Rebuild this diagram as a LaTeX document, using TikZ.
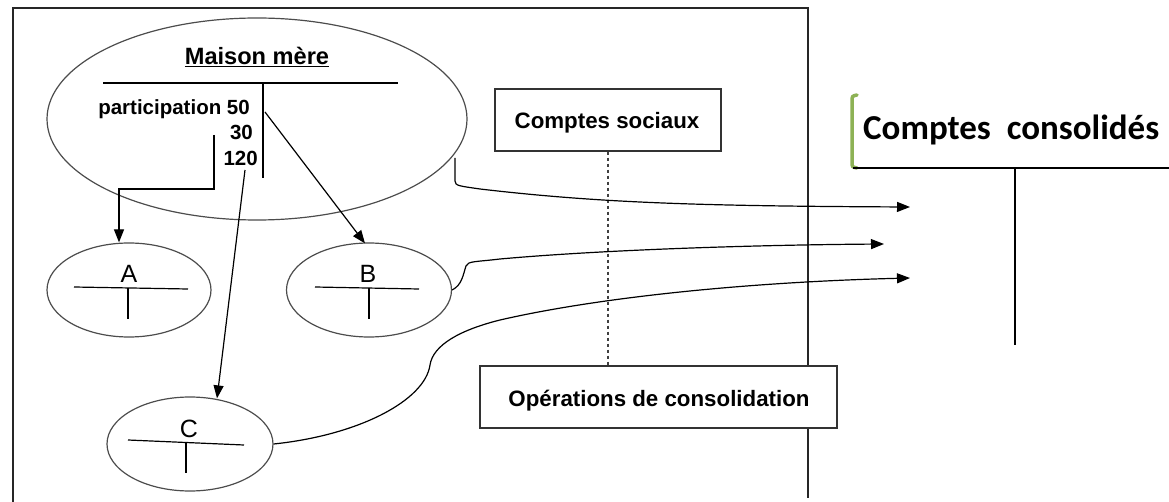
\documentclass[tikz,border=0pt]{standalone}
\usepackage{fontspec}
\setmainfont{Liberation Sans}
\newfontfamily\calib{Carlito}
\usetikzlibrary{shapes.geometric,arrows.meta,calc}
\definecolor{brgreen}{HTML}{8DB255}
\begin{document}
\begin{tikzpicture}[x=1pt,y=-1pt,
  ell/.style={ellipse,draw=black!70,line width=1.2pt,inner sep=0pt},
  arr/.style={line width=1.2pt,-{Triangle[length=13pt,width=10pt]}},
  conn/.style={line width=1.2pt},
  box/.style={draw=black!80,line width=1.3pt,fill=white,inner sep=0pt},
  lbl/.style={font=\fontsize{22.3}{26}\selectfont\bfseries,inner sep=0pt,anchor=base},
  small/.style={font=\fontsize{20.5}{24}\selectfont\bfseries,inner sep=0pt,anchor=base east},
  letter/.style={font=\fontsize{25}{29}\selectfont,inner sep=0pt,anchor=base},
  tl/.style={line width=1.2pt}]
\useasboundingbox (0,0) rectangle (1169,502);
% frame
\coordinate (f1) at (13,502);
\coordinate (f2) at (13,8);
\coordinate (f3) at (808,8);
\coordinate (f4) at (808,498);
\draw[line width=1.5pt,black!85] (f1) -- (f2) -- (f3) -- (f4);
% ellipses
\node[ell,minimum width=420pt,minimum height=202pt] (mm) at (257,119) {};
\node[ell,minimum width=164pt,minimum height=94pt] (A) at (129,290) {};
\node[ell,minimum width=165pt,minimum height=94pt] (B) at (369,290) {};
\node[ell,minimum width=166pt,minimum height=94pt] (C) at (190,444) {};
% Maison mere contents
\node[lbl,font=\fontsize{23.6}{27}\selectfont\bfseries] (mmt) at (257,65) {\underline{Maison mère}};
\draw[tl] (103,83) -- (398,83);
\draw[tl] (263,83) -- (263,178);
\node[small] (p50) at (250,115) {participation 50};
\node[small] (p30) at (253,140) {30};
\node[small] (p120) at (258,166) {120};
% A, B, C contents
\node[letter] (At) at (129,283) {A};
\draw[tl] (74,287) -- (188,289);
\draw[tl] (128,288) -- (128,319);
\node[letter] (Bt) at (368,283) {B};
\draw[tl] (315,287) -- (419,289);
\draw[tl] (369,288) -- (369,319);
\node[letter] (Ct) at (189,437) {C};
\draw[tl] (128,440) -- (244,445);
\draw[tl] (186,442) -- (186,473);
% arrows from maison mere
\coordinate (a0) at (214,135);
\coordinate (a1) at (119,189);
\draw[arr] (a0) |- (a1) -- (a1 |- A.north);
\coordinate (b0) at (265,112);
\draw[arr] (b0) -- ($(B.north)+(-4,1)$);
\coordinate (c0) at (245,170);
\draw[arr] (c0) -- ($(C.north)+(27,2)$);
% boxes
\node[box,minimum width=226pt,minimum height=62pt] (cs) at (608,120) {};
\node[lbl] (cst) at (607,129) {Comptes sociaux};
\node[box,minimum width=357pt,minimum height=62pt] (op) at (658.5,397) {};
\node[lbl] (opt) at (659,406) {Opérations de consolidation};
\draw[line width=1.2pt,dashed,black!75] (cs.south) -- (cs.south |- op.north);
% consolidated account
\node[font=\fontsize{35}{40}\selectfont\calib\bfseries,inner sep=0pt,anchor=base west] (cc) at (863,140) {Comptes\ \ consolidés};
\coordinate (g1) at (857,95);
\coordinate (g2) at (857,168);
\draw[brgreen,line width=3.5pt,line cap=round] (g1) .. controls (852,96) .. (852,102) -- (852,162) .. controls (852,167) .. (g2);
\coordinate (h1) at (853,168);
\coordinate (h2) at (1169,168);
\draw[line width=2.2pt] (h1) -- (h2);
\coordinate (v1) at (1015,168);
\coordinate (v2) at (1015,345);
\draw[line width=2.5pt] (v1) -- (v2);
% arrow tips
\coordinate (t1) at (910,207);
\coordinate (t2) at (884,244);
\coordinate (t3) at (910,278);
% curves
\coordinate (m0) at (455,158);
\draw[arr] (m0) -- (455,181) .. controls (455,186) and (460,186) .. (480,189) .. controls (600,203) and (700,206) .. (t1);
\draw[arr] (B.east) .. controls (462,285) and (463,275) .. (466,266) .. controls (468,261) and (475,262) .. (500,259) .. controls (600,250) and (750,245) .. (t2);
\draw[arr] (C.east) .. controls (360,435) and (425,400) .. (430,365) .. controls (433,345) and (460,330) .. (500,320) .. controls (600,297) and (750,282) .. (t3);
\end{tikzpicture}
\end{document}
